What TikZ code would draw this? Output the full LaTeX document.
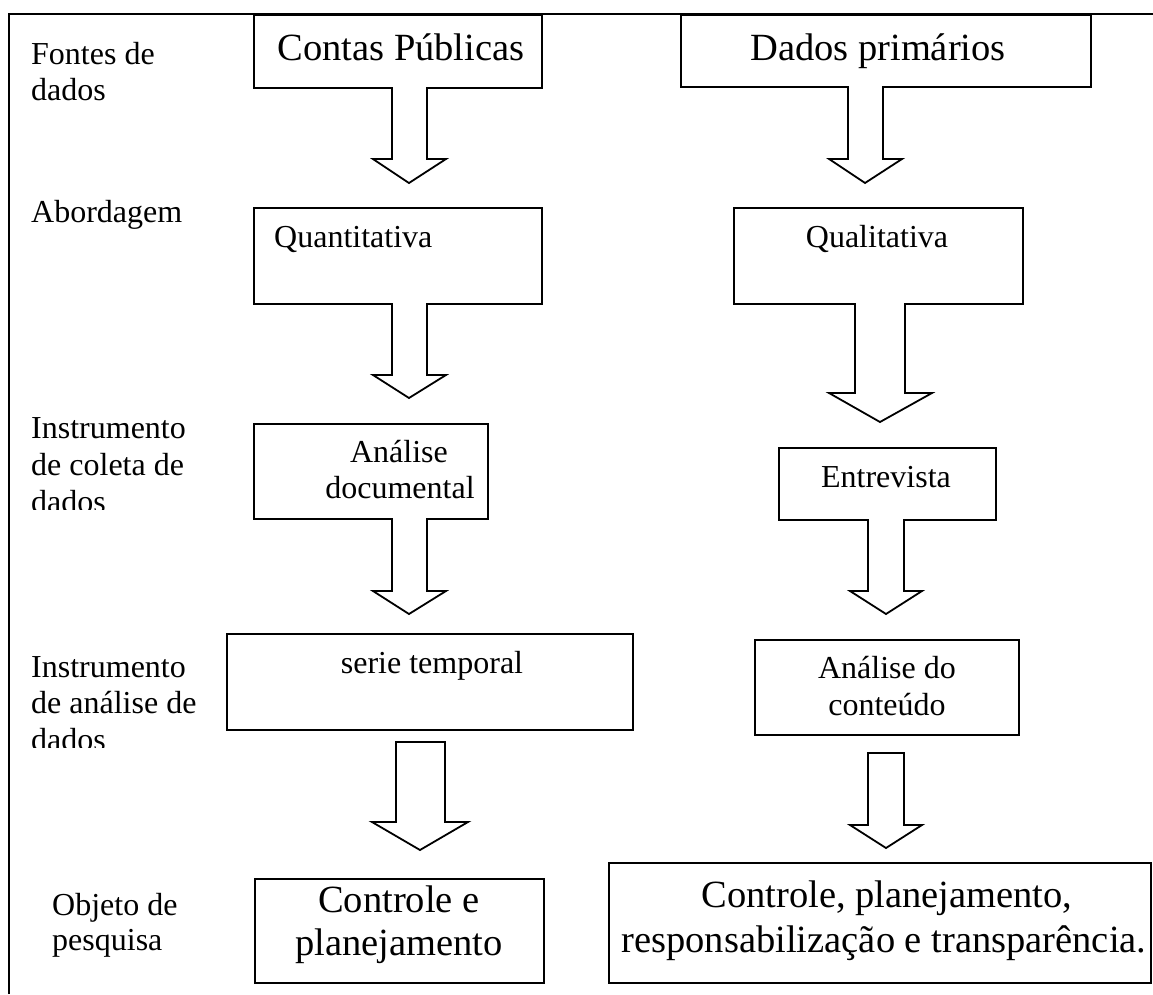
\documentclass[tikz,border=0pt]{standalone}
\usepackage{fontspec}
\setmainfont{Liberation Serif}
\begin{document}
\begin{tikzpicture}[x=1pt,y=-1pt,
  box/.style={draw, line width=1.8pt, inner sep=0pt, anchor=north west},
  lbl/.style={anchor=base west, inner sep=0pt, font=\fontsize{32}{37}\selectfont},
  txt/.style={anchor=base, inner sep=0pt, font=\fontsize{32}{37}\selectfont},
  big/.style={anchor=base, inner sep=0pt, font=\fontsize{38.5}{45}\selectfont},
  barrow/.style={draw, line width=1.8pt, fill=white, line join=miter}]
\useasboundingbox (0,0) rectangle (1153,994);
% outer frame
\coordinate (fb) at (9,994);
\coordinate (ftl) at (9,14);
\coordinate (ftr) at (1153,14);
\draw[line width=1.8pt] (fb) -- (ftl) -- (ftr);

% row labels
\node[lbl] (l1a) at (31,64) {Fontes de};
\node[lbl] (l1b) at (31,100) {dados};
\node[lbl] (l2) at (31,222) {Abordagem};
\node[lbl] (l3a) at (31,438) {Instrumento};
\node[lbl] (l3b) at (31,475) {de coleta de};
\begin{scope}
\clip (0,300) rectangle (250,509);
\node[lbl] (l3c) at (31,512) {dados};
\end{scope}
\node[lbl] (l4a) at (31,677) {Instrumento};
\node[lbl] (l4b) at (31,713) {de análise de};
\begin{scope}
\clip (0,600) rectangle (220,747);
\node[lbl] (l4c) at (31,750) {dados};
\end{scope}
\node[lbl] (l5a) at (52,915) {Objeto de};
\node[lbl] (l5b) at (52,950) {pesquisa};

% boxes, left column
\node[box, minimum width=288pt, minimum height=73pt] (a1) at (253,14) {};
\node[box, minimum width=288pt, minimum height=96pt] (a2) at (253,207) {};
\node[box, minimum width=234pt, minimum height=95pt] (a3) at (253,423) {};
\node[box, minimum width=406pt, minimum height=96pt] (a4) at (226,633) {};
\node[box, minimum width=289pt, minimum height=104pt] (a5) at (254,878) {};
% boxes, right column
\node[box, minimum width=410pt, minimum height=72pt] (b1) at (680,14) {};
\node[box, minimum width=289pt, minimum height=96pt] (b2) at (733,207) {};
\node[box, minimum width=217pt, minimum height=72pt] (b3) at (778,447) {};
\node[box, minimum width=264pt, minimum height=95pt] (b4) at (754,639) {};
\node[box, minimum width=542pt, minimum height=120pt] (b5) at (608,862) {};

% box texts
\node[big] (ta1) at (401,60) {Contas Públicas};
\node[big] (tb1) at (878,60) {Dados primários};
\node[lbl] (ta2) at (274,247) {Quantitativa};
\node[txt] (tb2) at (877,247) {Qualitativa};
\node[txt] (ta3a) at (399,462) {Análise};
\node[txt] (ta3b) at (400,498) {documental};
\node[txt] (tb3) at (886,487) {Entrevista};
\node[txt] (ta4) at (432,673) {serie temporal};
\node[txt] (tb4a) at (887,678) {Análise do};
\node[txt] (tb4b) at (887,715) {conteúdo};
\node[big] (ta5a) at (399,912) {Controle e};
\node[big] (ta5b) at (399,955) {planejamento};
\node[big] (tb5a) at (887,907) {Controle, planejamento,};
\node[big] (tb5b) at (884,952) {responsabilização e transparência.};

% block arrows, left column
\draw[barrow] (392,87) -- (392,159) -- (373,159) -- (409,183) -- (446,159) -- (427,159) -- (427,87);
\draw[barrow] (392,303) -- (392,375) -- (373,375) -- (409,398) -- (446,375) -- (427,375) -- (427,303);
\draw[barrow] (392,518) -- (392,591) -- (373,591) -- (409,614) -- (446,591) -- (427,591) -- (427,518);
\draw[barrow] (396,742) -- (396,822) -- (372,822) -- (420,850) -- (468,822) -- (445,822) -- (445,742) -- cycle;
% block arrows, right column
\draw[barrow] (848,86) -- (848,159) -- (829,159) -- (865,183) -- (902,159) -- (883,159) -- (883,86);
\draw[barrow] (855,303) -- (855,393) -- (829,393) -- (880,422) -- (932,393) -- (905,393) -- (905,303);
\draw[barrow] (868,519) -- (868,591) -- (850,591) -- (886,614) -- (922,591) -- (904,591) -- (904,519);
\draw[barrow] (868,753) -- (868,825) -- (850,825) -- (886,848) -- (922,825) -- (904,825) -- (904,753) -- cycle;
\end{tikzpicture}
\end{document}
